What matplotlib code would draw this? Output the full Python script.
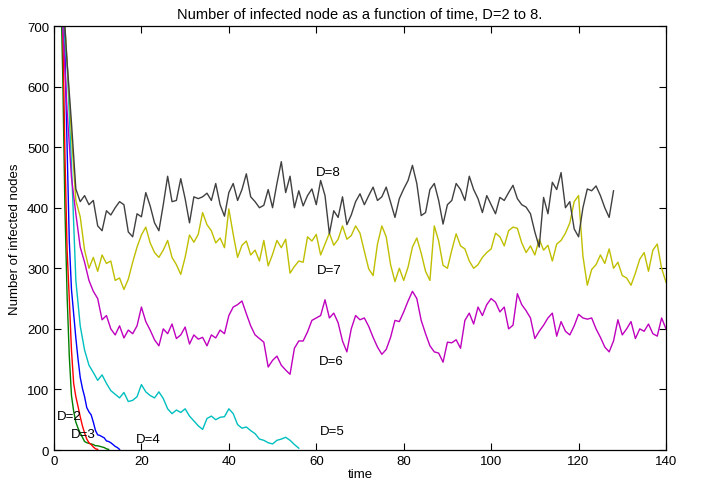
import numpy as np
import matplotlib.pyplot as plt

# values, one per time unit (D=5..8) or half unit (D=2..4)
d8 = [1000, 880, 760, 640, 540, 431, 410, 420, 405, 412, 370, 362, 395, 388, 400, 410,
      405, 360, 352, 390, 385, 425, 403, 375, 362, 405, 452, 410, 412, 448, 415, 375,
      418, 415, 418, 424, 412, 440, 405, 386, 425, 440, 412, 430, 456, 418, 410, 400,
      404, 430, 400, 440, 476, 425, 452, 400, 428, 403, 420, 431, 405, 445, 420, 357,
      395, 384, 418, 372, 388, 410, 423, 405, 420, 434, 412, 418, 434, 409, 384, 415,
      431, 445, 470, 440, 387, 392, 430, 440, 412, 373, 405, 412, 440, 430, 412, 452,
      430, 415, 392, 420, 405, 390, 417, 412, 425, 437, 415, 405, 401, 390, 360, 335,
      417, 390, 442, 430, 458, 400, 410, 365, 352, 400, 431, 428, 436, 420, 400, 384, 428]

d7 = [1000, 880, 760, 640, 520, 412, 385, 330, 300, 318, 295, 322, 308, 312, 280, 284,
      265, 282, 310, 335, 355, 368, 342, 326, 318, 330, 346, 318, 306, 290, 318, 355,
      343, 356, 392, 372, 362, 342, 350, 334, 398, 356, 318, 338, 345, 322, 330, 312,
      346, 304, 323, 346, 334, 348, 292, 303, 312, 310, 352, 345, 356, 322, 340, 358,
      338, 348, 370, 348, 354, 370, 358, 328, 299, 288, 340, 370, 352, 306, 278, 300,
      280, 302, 335, 350, 325, 295, 280, 370, 345, 305, 300, 330, 357, 337, 332, 312,
      300, 306, 318, 326, 332, 358, 352, 337, 362, 368, 366, 342, 326, 337, 322, 348,
      330, 338, 312, 340, 346, 358, 375, 410, 420, 320, 272, 298, 306, 322, 308, 332,
      300, 310, 288, 284, 272, 292, 315, 326, 295, 330, 340, 300, 277]

d6 = [1000, 850, 700, 560, 450, 390, 335, 310, 280, 262, 250, 215, 222, 200, 190, 205,
      185, 198, 192, 205, 236, 212, 198, 182, 172, 200, 192, 208, 184, 190, 203, 175,
      190, 183, 186, 172, 190, 185, 198, 192, 222, 236, 240, 246, 225, 205, 190, 184,
      178, 137, 148, 155, 140, 132, 125, 168, 180, 180, 195, 214, 218, 222, 248, 218,
      226, 210, 180, 162, 200, 222, 215, 218, 204, 186, 170, 158, 166, 186, 214, 212,
      228, 246, 262, 250, 214, 192, 172, 162, 160, 145, 178, 177, 182, 168, 214, 226,
      208, 236, 222, 240, 250, 244, 228, 236, 200, 206, 258, 240, 230, 218, 184, 196,
      206, 218, 226, 188, 212, 196, 190, 205, 224, 218, 216, 218, 200, 186, 170, 162,
      180, 215, 190, 200, 212, 184, 200, 196, 208, 192, 188, 218, 200]

d5 = [1000, 850, 700, 640, 470, 280, 205, 165, 140, 128, 115, 124, 110, 98, 92, 86,
      95, 80, 82, 88, 108, 96, 90, 86, 96, 85, 68, 60, 66, 62, 68, 56,
      48, 40, 34, 52, 56, 50, 54, 55, 68, 60, 42, 36, 38, 32, 27, 18,
      16, 12, 10, 16, 18, 21, 16, 9, 3]

d4 = [1300, 1150, 1000, 900, 800, 660, 500, 345, 265, 225, 185, 150, 120, 102, 88, 70,
      63, 58, 46, 32, 25, 24, 22, 20, 15, 14, 12, 9, 6, 4, 1]

d3 = [1250, 1100, 970, 840, 700, 490, 330, 250, 165, 110, 88, 72, 55, 40, 28, 18,
      12, 9, 5, 2, 1]

d2 = [1200, 1050, 920, 780, 620, 400, 255, 155, 90, 64, 46, 36, 28, 21, 14, 12,
      11, 10, 9, 7, 7, 6, 5, 4, 2, 1]

series = [
    (d2, 0.5, '#008000'),
    (d3, 0.5, '#ff0000'),
    (d4, 0.5, '#0000ff'),
    (d5, 1.0, '#00bfbf'),
    (d6, 1.0, '#bf00bf'),
    (d7, 1.0, '#bfbf00'),
    (d8, 1.0, '#404040'),
]

labels = ['D=2', 'D=3', 'D=4', 'D=5', 'D=6', 'D=7', 'D=8']
label_pos = [(0.7, 56), (3.9, 26), (18.8, 18), (60.9, 31), (60.6, 147), (60.2, 297), (59.9, 459)]

plt.rcParams['font.family'] = ['Liberation Sans', 'DejaVu Sans']

fig = plt.figure(figsize=(7.02, 4.85), dpi=100)
ax = fig.add_axes([0.0769, 0.0701, 0.8718, 0.8742])

for vals, step, col in series:
    t = np.arange(len(vals)) * step
    ax.plot(t, vals, color=col, lw=1.0)

for lab, (x, y) in zip(labels, label_pos):
    ax.text(x, y, lab, fontsize=9.5, ha='left', va='center')

ax.set_xlim(0, 140)
ax.set_ylim(0, 700)
ax.set_xticks(np.arange(0, 141, 20))
ax.set_yticks(np.arange(0, 701, 100))
ax.tick_params(direction='in', top=True, right=True, labelsize=9.5, length=5, width=0.8)
for s in ax.spines.values():
    s.set_linewidth(0.9)

ax.set_title('Number of infected node as a function of time, D=2 to 8.', fontsize=10.5, pad=6)
ax.set_xlabel('time', fontsize=9.5, labelpad=1)
ax.set_ylabel('Number of infected nodes', fontsize=9.5, labelpad=4)

fig.savefig('out.png', dpi=100)
